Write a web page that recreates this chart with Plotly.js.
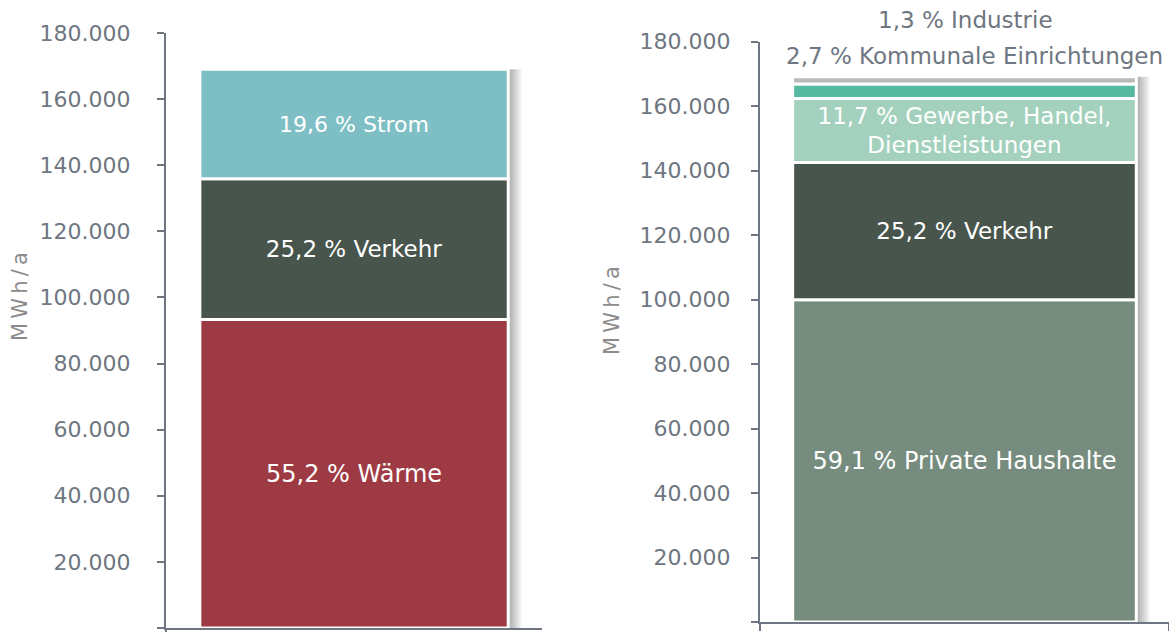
<!DOCTYPE html>
<html>
<head>
<meta charset="utf-8">
<script src="https://cdn.plot.ly/plotly-3.0.1.min.js"></script>
<style>html,body{margin:0;padding:0;background:#fff;}#chart{width:1169px;height:632px;}</style>
</head>
<body>
<div id="chart"></div>
<script>
// ---- data ----
const leftCategory = ['Energieträger'];
const leftSegments = ['Wärme', 'Verkehr', 'Strom'];
const leftValues = [93300, 42600, 33100];
const leftShares = ['55,2', '25,2', '19,6'];

const rightCategory = ['Sektoren'];
const rightSegments = ['Private Haushalte', 'Verkehr', 'Gewerbe, Handel,<br>Dienstleistungen', 'Kommunale Einrichtungen', 'Industrie'];
const rightValues = [99900, 42600, 19800, 4560, 2200];
const rightShares = ['59,1', '25,2', '11,7', '2,7', '1,3'];

const tickValues = [0, 20000, 40000, 60000, 80000, 100000, 120000, 140000, 160000, 180000];
const leftTickText = ['-', '20.000', '40.000', '60.000', '80.000', '100.000', '120.000', '140.000', '160.000', '180.000'];
const rightTickText = ['0', '20.000', '40.000', '60.000', '80.000', '100.000', '120.000', '140.000', '160.000', '180.000'];
const axisTitle = 'MWh/a';

// ---- styles ----
const FONT = 'DejaVu Sans, Verdana, sans-serif';
const AXIS_COLOR = '#6e7681';
const leftColors = ['#9e3a43', '#47554c', '#7ebfc6'];
const leftFontSizes = [24, 23, 22];
const rightColors = ['#758c7e', '#47554c', '#a3d1bd', '#55b9a0', '#b9b9b9'];
const rightFontSizes = [24, 23, 23, 23, 23];
const rightInside = [true, true, true, false, false];
const LEFT_W = 0.82, RIGHT_W = 0.84;

function cumulativeBases(vals) {
  const out = []; let s = 0;
  vals.forEach(v => { out.push(s); s += v; });
  return out;
}
const sum = a => a.reduce((p, c) => p + c, 0);

// soft drop shadow layers (drawn first, behind the bars)
function shadowTraces(cat, total, w, pxPerUnit, xa, ya) {
  const t = [];
  for (let k = 1; k <= 9; k++) {
    t.push({
      type: 'bar', x: cat, y: [total], base: [0], xaxis: xa, yaxis: ya,
      width: w, offset: -w / 2 + (1.5 * k) / pxPerUnit,
      marker: {color: 'rgba(0,0,0,0.04)', line: {width: 0}},
      hoverinfo: 'skip', showlegend: false
    });
  }
  return t;
}

const traces = [];
traces.push(...shadowTraces(leftCategory, sum(leftValues), LEFT_W, 376, 'x', 'y'));
traces.push(...shadowTraces(rightCategory, sum(rightValues), RIGHT_W, 409, 'x2', 'y2'));

const leftBases = cumulativeBases(leftValues);
leftSegments.forEach((seg, i) => {
  traces.push({
    type: 'bar', x: leftCategory, y: [leftValues[i]], base: [leftBases[i]], name: seg,
    xaxis: 'x', yaxis: 'y', width: LEFT_W,
    marker: {color: leftColors[i], line: {color: '#ffffff', width: 3}},
    text: [leftShares[i] + ' % ' + seg], textposition: 'inside', insidetextanchor: 'middle',
    textangle: 0, constraintext: 'none',
    textfont: {family: FONT, size: leftFontSizes[i], color: '#ffffff'},
    hoverinfo: 'name+y'
  });
});
const rightBases = cumulativeBases(rightValues);
rightSegments.forEach((seg, i) => {
  traces.push({
    type: 'bar', x: rightCategory, y: [rightValues[i]], base: [rightBases[i]], name: seg.replace('<br>', ' '),
    xaxis: 'x2', yaxis: 'y2', width: RIGHT_W,
    marker: {color: rightColors[i], line: {color: '#ffffff', width: 3}},
    text: rightInside[i] ? [rightShares[i] + ' % ' + seg] : [''],
    textposition: 'inside', insidetextanchor: 'middle',
    textangle: 0, constraintext: 'none',
    textfont: {family: FONT, size: rightFontSizes[i], color: '#ffffff'},
    hoverinfo: 'name+y'
  });
});

const rightTotal = sum(rightValues);
const spacedTitle = axisTitle.split('').join('\u2009');

function yAxis(domain, ticktext, standoff, anchor) {
  return {
    domain: domain, range: [0, 180000], anchor: anchor,
    tickmode: 'array', tickvals: tickValues, ticktext: ticktext,
    showline: true, linecolor: AXIS_COLOR, linewidth: 2,
    ticks: 'outside', ticklen: 7, tickwidth: 2, tickcolor: AXIS_COLOR,
    tickfont: {family: FONT, size: 22, color: AXIS_COLOR},
    ticklabelstandoff: standoff,
    showgrid: false, zeroline: false, fixedrange: true
  };
}
function xAxis(domain, anchor) {
  return {
    domain: domain, anchor: anchor, type: 'category',
    showline: true, linecolor: AXIS_COLOR, linewidth: 2,
    ticks: 'outside', tickson: 'boundaries', ticklen: 7, tickwidth: 2, tickcolor: AXIS_COLOR,
    showticklabels: false, showgrid: false, zeroline: false, fixedrange: true
  };
}

const titleFont = {family: FONT, size: 21, color: '#8c8c8c'};

const layout = {
  width: 1169, height: 632,
  margin: {l: 0, r: 0, t: 0, b: 0},
  paper_bgcolor: '#ffffff', plot_bgcolor: '#ffffff',
  barmode: 'overlay', showlegend: false,
  font: {family: FONT},
  xaxis: xAxis([0.142, 0.4637], 'y'),
  yaxis: yAxis([0.0063, 0.9478], leftTickText, 22, 'x'),
  xaxis2: xAxis([0.6501, 1.0], 'y2'),
  yaxis2: yAxis([0.0158, 0.9343], rightTickText, 16, 'x2'),
  annotations: [
    {xref: 'x2', yref: 'y2', x: rightCategory[0], y: rightTotal, yanchor: 'bottom', xanchor: 'center',
     yshift: 6, xshift: 10, showarrow: false,
     text: rightShares[3] + ' % ' + rightSegments[3],
     font: {family: FONT, size: 23, color: AXIS_COLOR}},
    {xref: 'x2', yref: 'y2', x: rightCategory[0], y: rightTotal, yanchor: 'bottom', xanchor: 'center',
     yshift: 42, xshift: 1, showarrow: false,
     text: rightShares[4] + ' % ' + rightSegments[4],
     font: {family: FONT, size: 23, color: AXIS_COLOR}},
    {xref: 'paper', yref: 'paper', x: 20 / 1169, y: 1 - 297 / 632, xanchor: 'center', yanchor: 'middle',
     textangle: -90, showarrow: false, text: spacedTitle, font: titleFont},
    {xref: 'paper', yref: 'paper', x: 612 / 1169, y: 1 - 311 / 632, xanchor: 'center', yanchor: 'middle',
     textangle: -90, showarrow: false, text: spacedTitle, font: titleFont}
  ]
};

Plotly.newPlot('chart', traces, layout, {displayModeBar: false, staticPlot: true});
</script>
</body>
</html>
